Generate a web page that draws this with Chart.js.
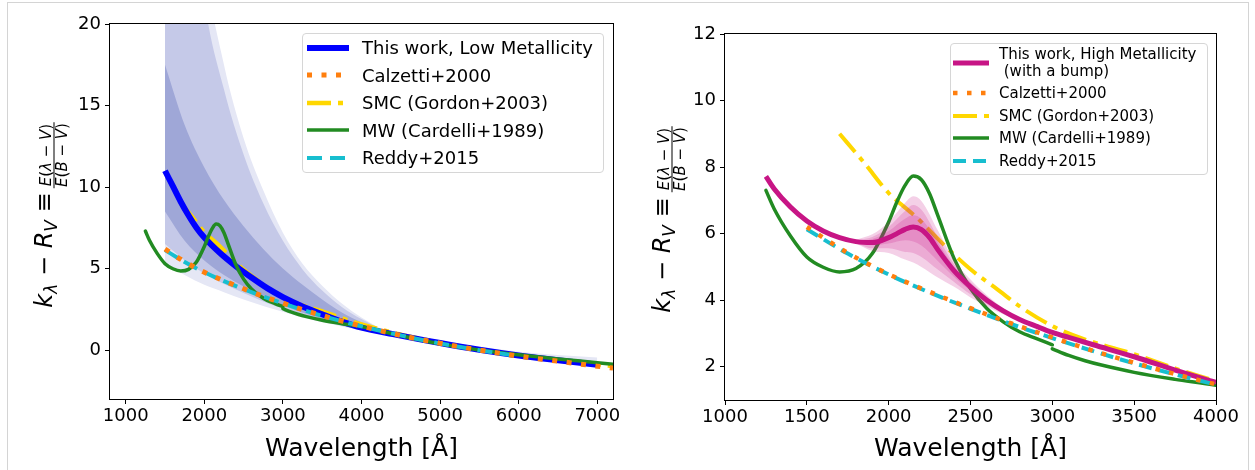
<!DOCTYPE html>
<html>
<head>
<meta charset="utf-8">
<title>Attenuation curves</title>
<script src="https://cdn.jsdelivr.net/npm/chart.js"></script>
<style>
  body { margin: 0; background: #fff; font-family: "DejaVu Sans", sans-serif; color: #000; }
  #wrap { position: relative; width: 1255px; height: 470px; overflow: hidden; }
  #frame { position: absolute; left: 7px; top: 2px; width: 1240px; height: 480px; border: 1px solid #d4d4d4; }
  canvas { position: absolute; top: 0; }
  #left { left: 0; }
  #right { left: 630px; }
  .ymain { position: absolute; white-space: nowrap; font-size: 24px; line-height: 28px;
           transform: translate(-50%, -50%) rotate(-90deg); }
  .ymain sub { font-size: 17px; vertical-align: -5px; line-height: 0; }
  .yfrac { position: absolute; display: flex; flex-direction: column; align-items: center; white-space: nowrap;
           font-size: 15px; line-height: 15px; transform: translate(-50%, -50%) rotate(-90deg); }
  .yfrac .num { border-bottom: 1px solid #000; padding: 0 2px; }
  .legend { position: absolute; box-sizing: border-box; border: 1px solid #d6d6d6; border-radius: 4px; background: rgba(255,255,255,0.8); }
  .row { display: flex; align-items: center; white-space: pre; }
  .row svg { flex: none; }
</style>
</head>
<body>
<div id="wrap">
  <div id="frame"></div>
  <canvas id="left" width="630" height="470"></canvas>
  <canvas id="right" width="625" height="470"></canvas>

  <div class="ymain" style="left:44px; top:250px;"><i>k</i><sub><i>λ</i></sub> − <i>R</i><sub><i>V</i></sub> ≡</div>
  <div class="yfrac" style="left:54px; top:155px;"><span class="num"><i>E</i>(<i>λ</i> − <i>V</i>)</span><span><i>E</i>(<i>B</i> − <i>V</i>)</span></div>
  <div class="ymain" style="left:662px; top:255px;"><i>k</i><sub><i>λ</i></sub> − <i>R</i><sub><i>V</i></sub> ≡</div>
  <div class="yfrac" style="left:672px; top:159px;"><span class="num"><i>E</i>(<i>λ</i> − <i>V</i>)</span><span><i>E</i>(<i>B</i> − <i>V</i>)</span></div>

  <div class="legend" style="left:302px; top:33px; width:302px; height:140px; font-size:18px;">
    <div class="row" style="height:27.5px"><svg width="42" height="10" style="margin-left:4px"><line x1="0" y1="5" x2="42" y2="5" stroke="#0000ff" stroke-width="6"/></svg><span style="margin-left:13px">This work, Low Metallicity</span></div>
    <div class="row" style="height:27.5px"><svg width="42" height="10" style="margin-left:4px"><line x1="0" y1="5" x2="42" y2="5" stroke="#ff7f0e" stroke-width="5" stroke-dasharray="5 9.5"/></svg><span style="margin-left:13px">Calzetti+2000</span></div>
    <div class="row" style="height:27.5px"><svg width="42" height="10" style="margin-left:4px"><line x1="0" y1="5" x2="42" y2="5" stroke="#ffd700" stroke-width="4.5" stroke-dasharray="24 7 5 7"/></svg><span style="margin-left:13px">SMC (Gordon+2003)</span></div>
    <div class="row" style="height:27.5px"><svg width="42" height="10" style="margin-left:4px"><line x1="0" y1="5" x2="42" y2="5" stroke="#228b22" stroke-width="3.5"/></svg><span style="margin-left:13px">MW (Cardelli+1989)</span></div>
    <div class="row" style="height:27.5px"><svg width="42" height="10" style="margin-left:4px"><line x1="0" y1="5" x2="42" y2="5" stroke="#17becf" stroke-width="4" stroke-dasharray="15 8"/></svg><span style="margin-left:13px">Reddy+2015</span></div>
  </div>

  <div class="legend" style="left:950px; top:43px; width:258px; height:132px; font-size:15px;">
    <div class="row" style="height:38px; line-height:17px;"><svg width="36" height="10" style="margin-left:2px"><line x1="0" y1="5" x2="36" y2="5" stroke="#c71585" stroke-width="5"/></svg><span style="margin-left:10px">This work, High Metallicity
 (with a bump)</span></div>
    <div class="row" style="height:22.5px"><svg width="36" height="10" style="margin-left:2px"><line x1="0" y1="5" x2="36" y2="5" stroke="#ff7f0e" stroke-width="4.5" stroke-dasharray="4.5 9.5"/></svg><span style="margin-left:10px">Calzetti+2000</span></div>
    <div class="row" style="height:22.5px"><svg width="36" height="10" style="margin-left:2px"><line x1="0" y1="5" x2="36" y2="5" stroke="#ffd700" stroke-width="4" stroke-dasharray="24 7 5 7"/></svg><span style="margin-left:10px">SMC (Gordon+2003)</span></div>
    <div class="row" style="height:22.5px"><svg width="36" height="10" style="margin-left:2px"><line x1="0" y1="5" x2="36" y2="5" stroke="#228b22" stroke-width="3.5"/></svg><span style="margin-left:10px">MW (Cardelli+1989)</span></div>
    <div class="row" style="height:22.5px"><svg width="36" height="10" style="margin-left:2px"><line x1="0" y1="5" x2="36" y2="5" stroke="#17becf" stroke-width="4" stroke-dasharray="13 7"/></svg><span style="margin-left:10px">Reddy+2015</span></div>
  </div>
</div>

<script>
// wavelength in Angstrom, values are k_lambda - R_V
var calzWl = [1500, 1750, 2000, 2250, 2500, 2750, 3000, 3250, 3500, 3750, 4000, 4500, 5000, 5500, 6000, 6300, 6500, 7000, 7200];
var calzK  = [6.2, 5.42, 4.78, 4.25, 3.76, 3.3, 2.88, 2.48, 2.12, 1.78, 1.47, 0.9, 0.42, 0.0, -0.37, -0.56, -0.68, -0.99, -1.1];

var reddyWl = [1500, 1750, 2000, 2250, 2500, 2750, 3000, 3250, 3500, 3750, 4000, 4500, 5000, 5500, 6000];
var reddyK  = [6.13, 5.4, 4.77, 4.23, 3.74, 3.28, 2.86, 2.47, 2.1, 1.77, 1.46, 0.9, 0.41, -0.01, -0.38];

// Milky Way curve, UV part and optical part (small step at 3000)
var mwUvWl  = [1250, 1300, 1400, 1500, 1600, 1700, 1800, 1900, 2000, 2050, 2100, 2150, 2200, 2250, 2300, 2400, 2500, 2600,
               2700, 2800, 2900, 3000];
var mwUvK   = [7.3, 6.75, 5.93, 5.3, 4.99, 4.85, 4.95, 5.4, 6.35, 6.95, 7.45, 7.73, 7.62, 7.2, 6.55, 5.25, 4.35, 3.75,
               3.35, 3.05, 2.85, 2.66];
var mwOptWl = [3000, 3100, 3200, 3300, 3500, 3750, 4000, 4500, 5000, 5500, 6000, 6500, 7000, 7200];
var mwOptK  = [2.54, 2.34, 2.18, 2.05, 1.83, 1.62, 1.44, 0.89, 0.38, 0.0, -0.29, -0.54, -0.77, -0.87];

var smcWl = [1700, 1850, 2000, 2170, 2330, 2500, 2660, 2820, 3030, 3230, 3500, 3750, 4000, 4500, 5000, 5500, 6000, 6500, 7000, 7200];
var smcK  = [9.0, 8.13, 7.22, 6.49, 5.7, 4.93, 4.34, 3.75, 3.15, 2.77, 2.38, 1.95, 1.57, 0.95, 0.45, 0.03, -0.33, -0.62, -0.88, -0.98];

// left panel: low metallicity curve and its three posterior bands
var lowWl = [1500, 1600, 1700, 1800, 1900, 2000, 2200, 2400, 2600, 2800, 3000, 3250, 3500, 3750, 4000, 4400, 5000, 5500, 6000, 6500, 7000];
var lowK  = [11.0, 10.05, 9.1, 8.25, 7.5, 6.9, 5.95, 5.15, 4.45, 3.8, 3.25, 2.68, 2.2, 1.75, 1.38, 0.98, 0.43, 0.02, -0.33, -0.62, -0.9];

var lowBandWl = [1500, 1750, 2000, 2250, 2500, 2750, 3000, 3250, 3500, 3750, 4000, 4400, 5000, 5500, 6000, 6500, 7000];
var lowPaleHi = [60, 37, 24, 17.5, 13, 9.8, 7.2, 5.3, 3.95, 2.85, 2.0, 1.0, 0.4, -0.02, -0.36, -0.66, -0.93];
var lowPaleLo = [5.3, 4.6, 4.0, 3.55, 3.1, 2.7, 2.35, 2.0, 1.7, 1.45, 1.22, 0.98, 0.55, 0.2, -0.1, -0.3, -0.45];
var lowMidHi  = [55, 33, 21.5, 16, 12, 9.0, 6.7, 4.95, 3.65, 2.65, 1.9, 1.0, 0.41, 0.0, -0.35, -0.64, -0.92];
var lowMidLo  = [6.5, 5.5, 4.7, 4.05, 3.5, 2.98, 2.55, 2.15, 1.8, 1.5, 1.25, 0.98, 0.45, 0.04, -0.31, -0.6, -0.87];
var lowDarkHi = [17.5, 13.8, 11.2, 9.2, 7.6, 6.2, 5.0, 4.0, 3.1, 2.3, 1.7, 1.0, 0.42, 0.01, -0.34, -0.63, -0.91];
var lowDarkLo = [8.5, 6.7, 5.5, 4.6, 3.9, 3.25, 2.75, 2.3, 1.9, 1.55, 1.28, 0.98, 0.44, 0.03, -0.32, -0.61, -0.89];

// right panel: high metallicity curve with the 2175 bump and its bands
var highWl = [1250, 1300, 1400, 1500, 1600, 1700, 1800, 1900, 2000, 2050, 2100, 2150, 2200, 2250, 2300, 2400, 2500,
              2600, 2700, 2800, 2900, 3000, 3100, 3250, 3500, 3750, 4000];
var highK  = [7.72, 7.35, 6.8, 6.38, 6.08, 5.88, 5.76, 5.73, 5.88, 6.0, 6.13, 6.2, 6.12, 5.88, 5.52, 4.88, 4.4,
              4.0, 3.68, 3.42, 3.22, 3.03, 2.88, 2.66, 2.3, 1.9, 1.53];

var bumpWl     = [1800, 1900, 2000, 2100, 2150, 2200, 2300, 2400, 2500, 2600, 2700, 2800];
var bumpOutHi  = [5.82, 5.98, 6.35, 6.92, 7.12, 6.98, 6.1, 5.2, 4.62, 4.15, 3.76, 3.44];
var bumpOutLo  = [5.7, 5.48, 5.42, 5.22, 5.13, 5.0, 4.68, 4.4, 4.08, 3.82, 3.58, 3.4];
var bumpMidHi  = [5.8, 5.9, 6.2, 6.68, 6.86, 6.72, 5.9, 5.08, 4.55, 4.1, 3.73, 3.43];
var bumpMidLo  = [5.72, 5.56, 5.56, 5.45, 5.42, 5.3, 4.92, 4.55, 4.18, 3.88, 3.61, 3.41];
var bumpInHi   = [5.78, 5.84, 6.08, 6.45, 6.55, 6.44, 5.74, 5.0, 4.5, 4.07, 3.71, 3.43];
var bumpInLo   = [5.74, 5.65, 5.7, 5.8, 5.76, 5.64, 5.18, 4.7, 4.28, 3.93, 3.64, 3.42];

var leftXTicks  = [1000, 2000, 3000, 4000, 5000, 6000, 7000];
var leftYTicks  = [0, 5, 10, 15, 20];
var rightXTicks = [1000, 1500, 2000, 2500, 3000, 3500, 4000];
var rightYTicks = [2, 4, 6, 8, 10, 12];

Chart.defaults.font.family = 'DejaVu Sans';
Chart.defaults.color = '#000';

function pts(xs, ys) {
    return xs.map(function (x, i) { return { x: x, y: ys[i] }; });
}

function line(label, xs, ys, color, width, dash, order) {
    return {
        label: label, data: pts(xs, ys), borderColor: color, borderWidth: width,
        borderDash: dash, borderJoinStyle: 'round', pointRadius: 0, fill: false, order: order,
        cubicInterpolationMode: 'monotone', clip: 0
    };
}

// MW pieces get round caps so the step at 3000 stays joined
function mwLine(xs, ys, order) {
    var d = line('MW (Cardelli+1989)', xs, ys, '#228b22', 3.5, [], order);
    d.borderCapStyle = 'round';
    return d;
}

// upper edge fills down to the next dataset (the lower edge)
function band(xs, hi, lo, color, order) {
    var none = 'rgba(0,0,0,0)';
    return [
        { data: pts(xs, hi), borderColor: none, borderWidth: 0, backgroundColor: color, fill: '+1',
          pointRadius: 0, order: order, cubicInterpolationMode: 'monotone', clip: 0 },
        { data: pts(xs, lo), borderColor: none, borderWidth: 0, fill: false,
          pointRadius: 0, order: order, cubicInterpolationMode: 'monotone', clip: 0 }
    ];
}

var framePlugin = {
    id: 'frame',
    afterDraw: function (chart) {
        var a = chart.chartArea, ctx = chart.ctx;
        ctx.save();
        ctx.strokeStyle = '#000';
        ctx.lineWidth = 1;
        ctx.strokeRect(Math.round(a.left) - 0.5, Math.round(a.top) - 0.5,
                       Math.round(a.right - a.left) + 1, Math.round(a.bottom - a.top) + 1);
        ctx.restore();
    }
};

function axes(xmin, xmax, xt, ymin, ymax, yt, xh, yw) {
    var tickFont = { size: 18, family: 'DejaVu Sans' };
    var grid = { display: true, drawOnChartArea: false, drawTicks: true, tickLength: 5, color: '#000' };
    return {
        x: {
            type: 'linear', min: xmin, max: xmax,
            afterBuildTicks: function (s) { s.ticks = xt.map(function (v) { return { value: v }; }); },
            afterFit: function (s) { s.height = xh; },
            grid: grid, border: { display: false },
            ticks: { font: tickFont, color: '#000', padding: 2, maxRotation: 0, autoSkip: false,
                     callback: function (v) { return String(v); } },
            title: { display: true, text: 'Wavelength [Å]', color: '#000',
                     font: { size: 25, family: 'DejaVu Sans' }, padding: { top: 0, bottom: 6 } }
        },
        y: {
            type: 'linear', min: ymin, max: ymax,
            afterBuildTicks: function (s) { s.ticks = yt.map(function (v) { return { value: v }; }); },
            afterFit: function (s) { s.width = yw; },
            grid: grid, border: { display: false },
            ticks: { font: tickFont, color: '#000', padding: 4, autoSkip: false,
                     callback: function (v) { return String(v); } }
        }
    };
}

var leftSets = [
    line('Calzetti+2000', calzWl, calzK, '#ff7f0e', 5, [5, 9.5], 0),
    line('Reddy+2015', reddyWl, reddyK, '#17becf', 4, [15, 7], 1),
    mwLine(mwUvWl, mwUvK, 2),
    mwLine(mwOptWl, mwOptK, 2),
    line('This work, Low Metallicity', lowWl, lowK, '#0000ff', 6, [], 3),
    line('SMC (Gordon+2003)', smcWl, smcK, '#ffd700', 4.5, [24, 7, 5, 7], 4)
].concat(
    band(lowBandWl, lowDarkHi, lowDarkLo, '#9fa7d7', 5),
    band(lowBandWl, lowMidHi, lowMidLo, '#c5c9e8', 6),
    band(lowBandWl, lowPaleHi, lowPaleLo, '#e5e7f5', 7)
);

var pink = 'rgba(199, 21, 133, 0.2)';
var rightSets = [
    line('Calzetti+2000', calzWl, calzK, '#ff7f0e', 4.5, [4.5, 9.5], 0),
    line('Reddy+2015', reddyWl, reddyK, '#17becf', 4, [13, 7], 0.5),
    line('This work, High Metallicity (with a bump)', highWl, highK, '#c71585', 5, [], 1),
    mwLine(mwUvWl, mwUvK, 5),
    mwLine(mwOptWl, mwOptK, 5),
    line('SMC (Gordon+2003)', smcWl, smcK, '#ffd700', 4, [24, 7, 5, 7], 6)
].concat(
    band(bumpWl, bumpInHi, bumpInLo, pink, 2),
    band(bumpWl, bumpMidHi, bumpMidLo, pink, 3),
    band(bumpWl, bumpOutHi, bumpOutLo, pink, 4)
);

var common = {
    responsive: false, animation: false, devicePixelRatio: 1,
    plugins: { legend: { display: false }, tooltip: { enabled: false } }
};

new Chart(document.getElementById('left'), {
    type: 'line',
    data: { datasets: leftSets },
    options: Object.assign({}, common, {
        layout: { padding: { left: 0, right: 17, top: 24, bottom: 0 } },
        scales: axes(800, 7200, leftXTicks, -3, 20, leftYTicks, 71, 110)
    }),
    plugins: [framePlugin]
});

new Chart(document.getElementById('right'), {
    type: 'line',
    data: { datasets: rightSets },
    options: Object.assign({}, common, {
        layout: { padding: { left: 0, right: 39, top: 34, bottom: 0 } },
        scales: axes(1000, 4000, rightXTicks, 1, 12, rightYTicks, 70, 95)
    }),
    plugins: [framePlugin]
});
</script>
</body>
</html>
